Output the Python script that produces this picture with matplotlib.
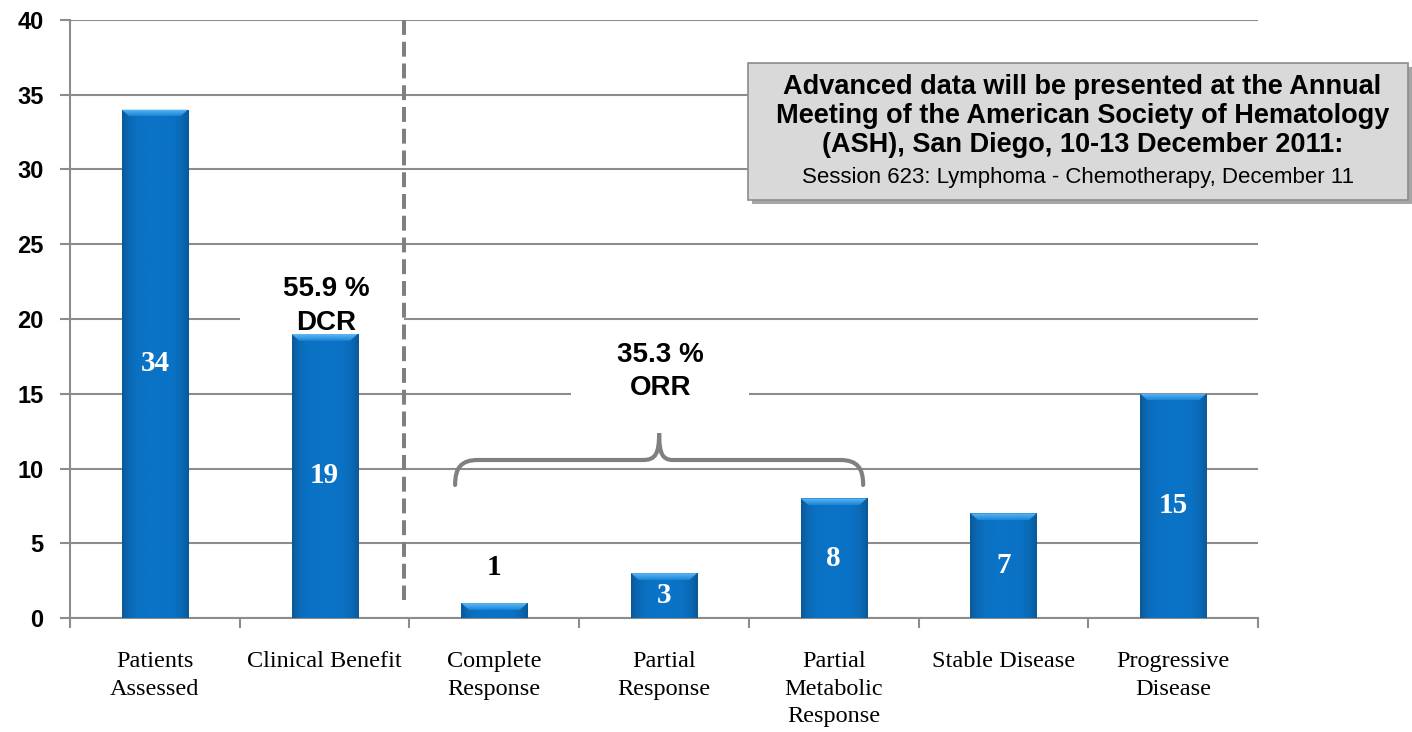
import numpy as np
import matplotlib
matplotlib.use("Agg")
import matplotlib.pyplot as plt
from matplotlib.patches import Rectangle, Polygon, PathPatch
from matplotlib.path import Path
from matplotlib.colors import LinearSegmentedColormap
from matplotlib.ticker import FixedLocator

# ---- data -------------------------------------------------------------
categories = ["Patients\nAssessed", "Clinical Benefit", "Complete\nResponse",
              "Partial\nResponse", "Partial\nMetabolic\nResponse",
              "Stable Disease", "Progressive\nDisease"]
counts = [34, 19, 1, 3, 8, 7, 15]
y_ticks = [0, 5, 10, 15, 20, 25, 30, 35, 40]

dcr_label = "55.9 %\nDCR"
orr_label = "35.3 %\nORR"
note_title = ("Advanced data will be presented at the Annual\n"
              "Meeting of the American Society of Hematology\n"
              "(ASH), San Diego, 10-13 December 2011:")
note_session = "Session 623: Lymphoma - Chemotherapy, December 11"

# ---- styling ----------------------------------------------------------
SANS = "Liberation Sans"
SERIF = "Liberation Serif"
GRID = "#8C8C8C"
BRACE = "#808080"

fig = plt.figure(figsize=(14.12, 7.32), dpi=100)
ax = fig.add_axes([0.0496, 0.1557, 0.8414, 0.8170])

x = np.arange(len(counts))
bars = ax.bar(x, counts, width=0.39, color="#0870C0", zorder=3)

# shaded body + bevelled top for each bar
body_cmap = LinearSegmentedColormap.from_list("body", ["#0A5896", "#0B73C6"])
profile = 1 - np.abs(np.linspace(-1, 1, 128)) ** 4
bevel_cmap = LinearSegmentedColormap.from_list("bevel", ["#1C86D6", "#5DB8F5"])
for b in bars:
    x0, w, h = b.get_x(), b.get_width(), b.get_height()
    im = ax.imshow(profile[np.newaxis, :], cmap=body_cmap, aspect="auto",
                   extent=(x0, x0 + w, 0, h), zorder=3.1, vmin=0, vmax=1)
    im.set_clip_path(b)
    dy = min(0.45, h * 0.45)
    dx = 0.045
    bevel = Polygon([(x0, h), (x0 + w, h), (x0 + w - dx, h - dy),
                     (x0 + dx, h - dy)], closed=True, facecolor="none",
                    edgecolor="none", zorder=3.2)
    ax.add_patch(bevel)
    bim = ax.imshow(np.linspace(0, 1, 16)[:, np.newaxis][::-1], cmap=bevel_cmap,
                    aspect="auto", extent=(x0, x0 + w, h - dy, h), zorder=3.2,
                    origin="upper")
    bim.set_clip_path(bevel)

# value labels
for xi, v in zip(x, counts):
    if v >= 2:
        ax.text(xi, v / 2, str(v), ha="center", va="center", color="white",
                fontsize=21, fontweight="bold", family=SERIF, zorder=5)
    else:
        ax.text(xi, v + 2.35, str(v), ha="center", va="center", color="black",
                fontsize=21, fontweight="bold", family=SERIF, zorder=5)

ax.set_xlim(-0.5, len(counts) - 0.5)
ax.set_ylim(0, 40)

# axes, ticks, grid
ax.set_axisbelow(True)
ax.yaxis.grid(True, color=GRID, linewidth=1.5)
ax.set_yticks(y_ticks)
ax.set_yticklabels([str(t) for t in y_ticks], fontsize=17, fontweight="bold",
                   family=SANS)
ax.tick_params(axis="y", length=7, width=1.5, color=GRID, pad=12)
ax.set_xticks(x)
ax.set_xticklabels(categories, fontsize=17.5, family=SERIF, linespacing=1.4,
                   va="top")
ax.xaxis.set_minor_locator(FixedLocator(np.arange(-0.5, len(counts), 1.0)))
ax.tick_params(axis="x", which="major", length=0, pad=24)
ax.tick_params(axis="x", which="minor", length=7, width=1.5, color=GRID)
for s in ("top", "right"):
    ax.spines[s].set_visible(False)
for s in ("left", "bottom"):
    ax.spines[s].set_color(GRID)
    ax.spines[s].set_linewidth(1.5)

# separator between overall counts and response categories
ax.plot([1.468, 1.468], [40, 1.2], color=BRACE, linewidth=2.9,
        linestyle=(0, (3.7, 1.7)), zorder=4, solid_capstyle="butt")

# DCR label over a white patch that interrupts the grid
ax.add_patch(Rectangle((0.5, 19.3), 0.97, 3.9, facecolor="white",
                       edgecolor="none", zorder=1))
ax.text(1.01, 20.9, dcr_label, ha="center", va="center", fontsize=20,
        fontweight="bold", family=SANS, linespacing=1.4, zorder=5)

# ORR label and brace
ax.add_patch(Rectangle((2.45, 14.0), 1.05, 4.6, facecolor="white",
                       edgecolor="none", zorder=1))
ax.text(2.977, 16.5, orr_label, ha="center", va="center", fontsize=20,
        fontweight="bold", family=SANS, linespacing=1.35, zorder=5)

yb, yh, yt = 8.9, 10.57, 12.37
xl, xr, xm = 1.769, 4.173, 2.971
verts = [(xl, yb),
         (xl, 10.0), (1.80, yh), (1.904, yh),
         (2.876, yh),
         (2.95, yh), (xm, 11.0), (xm, yt),
         (xm, 11.0), (2.99, yh), (3.053, yh),
         (4.037, yh),
         (4.14, yh), (xr, 10.0), (xr, yb)]
codes = ([Path.MOVETO] + [Path.CURVE4] * 3 + [Path.LINETO] + [Path.CURVE4] * 6
         + [Path.LINETO] + [Path.CURVE4] * 3)
ax.add_patch(PathPatch(Path(verts, codes), facecolor="none", edgecolor=BRACE,
                       linewidth=3, zorder=4, capstyle="round"))

# announcement box
bx, by = 748 / 1412, 1 - 200 / 732
bw, bh = 660 / 1412, 137 / 732
fig.patches.append(Rectangle((bx + 4 / 1412, by - 4 / 732), bw, bh,
                             transform=fig.transFigure, facecolor="#A6A6A6",
                             edgecolor="none", zorder=5))
fig.patches.append(Rectangle((bx, by), bw, bh, transform=fig.transFigure,
                             facecolor="#D9D9D9", edgecolor="#8C8C8C",
                             linewidth=1.2, zorder=6))
fig.text(bx + bw / 2 + 0.003, 1 - 116 / 732, note_title, ha="center",
         va="center", fontsize=19.5, fontweight="bold", family=SANS,
         linespacing=1.17, zorder=7)
fig.text(bx + bw / 2, 1 - 177 / 732, note_session, ha="center", va="center",
         fontsize=16, family=SANS, zorder=7)

fig.savefig("out.png", dpi=100)
